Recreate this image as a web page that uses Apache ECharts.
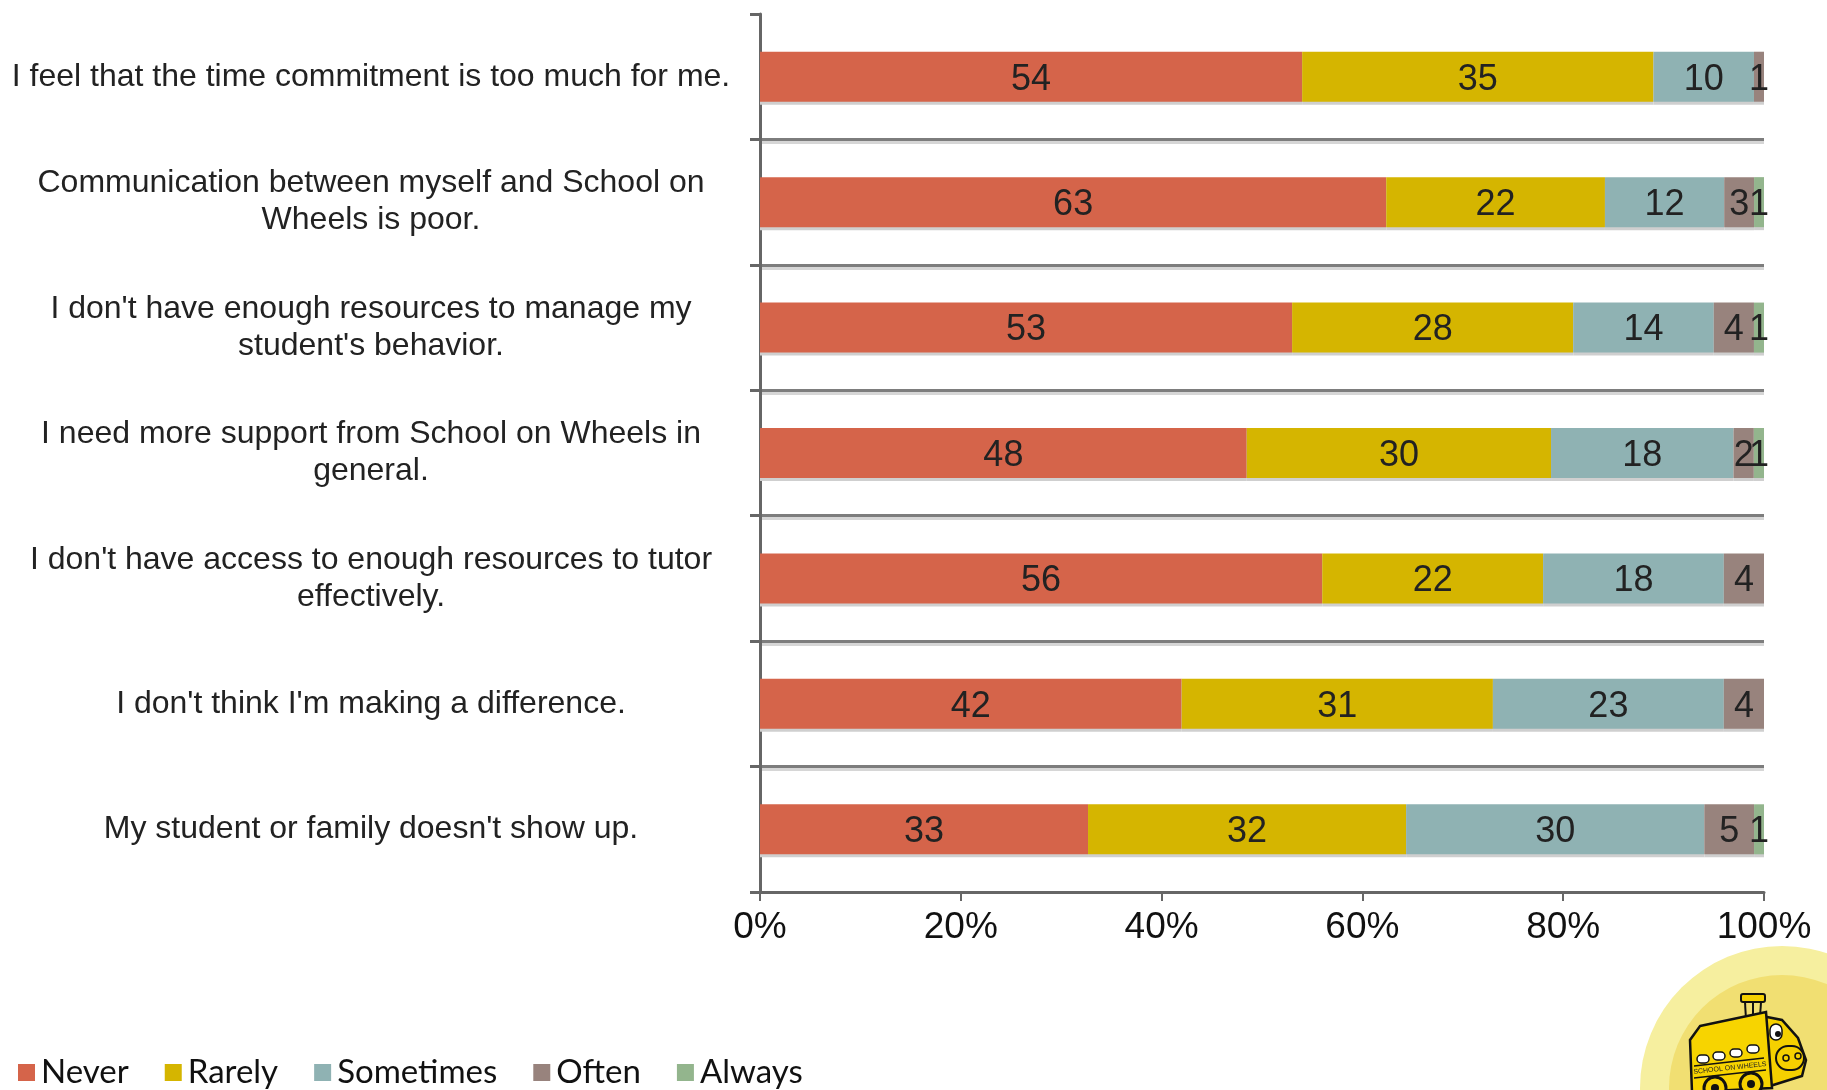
<!DOCTYPE html>
<html>
<head>
<meta charset="utf-8">
<script src="https://cdn.jsdelivr.net/npm/echarts@6/dist/echarts.min.js"></script>
<style>
html,body{margin:0;padding:0;background:#fff;}
#chart{width:1827px;height:1090px;}
</style>
</head>
<body>
<div id="chart"></div>
<script>
const categories = [
  "I feel that the time commitment is too much for me.",
  "Communication between myself and School on\nWheels is poor.",
  "I don't have enough resources to manage my\nstudent's behavior.",
  "I need more support from School on Wheels in\ngeneral.",
  "I don't have access to enough resources to tutor\neffectively.",
  "I don't think I'm making a difference.",
  "My student or family doesn't show up."
];
const seriesNames = ["Never", "Rarely", "Sometimes", "Often", "Always"];
const never     = [54, 63, 53, 48, 56, 42, 33];
const rarely    = [35, 22, 28, 30, 22, 31, 32];
const sometimes = [10, 12, 14, 18, 18, 23, 30];
const often     = [1, 3, 4, 2, 4, 4, 5];
const always    = [0, 1, 1, 1, 0, 0, 1];
const xTicks = [0, 20, 40, 60, 80, 100];
const colors = ["#D5644A", "#D5B500", "#8FB2B3", "#98837D", "#93B58D"];

const allSeries = [never, rarely, sometimes, often, always];
const totals = categories.map((_, i) => allSeries.reduce((s, arr) => s + arr[i], 0));

const chart = echarts.init(document.getElementById('chart'), null, {renderer: 'canvas'});
const FONT = '"Liberation Sans", Arial, sans-serif';

function pill(cx, cy, rx, ry) {
  return {type: 'rect', shape: {x: cx - rx, y: cy - ry, width: rx * 2, height: ry * 2, r: ry},
          style: {fill: '#fff', stroke: '#111', lineWidth: 1.5}};
}

const busParts = [
  {type: 'rect', shape: {x: 1741, y: 994, width: 24, height: 8, r: 2}, style: {fill: '#F5D000', stroke: '#111', lineWidth: 2}},
  {type: 'line', shape: {x1: 1745, y1: 1002, x2: 1746, y2: 1020}, style: {stroke: '#111', lineWidth: 2}},
  {type: 'line', shape: {x1: 1753, y1: 1002, x2: 1753, y2: 1018}, style: {stroke: '#111', lineWidth: 2}},
  {type: 'line', shape: {x1: 1761, y1: 1002, x2: 1760, y2: 1017}, style: {stroke: '#111', lineWidth: 2}},
  {type: 'polygon', shape: {points: [[1762, 1016], [1782, 1020], [1798, 1038], [1806, 1060], [1802, 1076], [1770, 1086]]}, style: {fill: '#F5D000', stroke: '#111', lineWidth: 2.5}},
  {type: 'polygon', shape: {points: [[1700, 1026], [1766, 1012], [1772, 1088], [1692, 1092], [1690, 1040]]}, style: {fill: '#F7D400', stroke: '#111', lineWidth: 2.5}},
  pill(1703, 1059, 6, 4),
  pill(1719, 1056, 6, 4),
  pill(1736, 1053, 6, 4),
  pill(1753, 1049, 6, 4),
  {type: 'line', shape: {x1: 1694, y1: 1066, x2: 1764, y2: 1058}, style: {stroke: '#111', lineWidth: 1.5}},
  {type: 'line', shape: {x1: 1694, y1: 1078, x2: 1766, y2: 1070}, style: {stroke: '#111', lineWidth: 1.5}},
  {type: 'text', x: 1730, y: 1068, rotation: 0.11, style: {text: 'SCHOOL ON WHEELS', fontSize: 7, fontFamily: FONT, fill: '#222', align: 'center', verticalAlign: 'middle'}},
  {type: 'rect', shape: {x: 1770, y: 1024, width: 12, height: 16, r: 6}, style: {fill: '#fff', stroke: '#111', lineWidth: 1.5}},
  {type: 'circle', shape: {cx: 1778, cy: 1034, r: 3}, style: {fill: '#111'}},
  {type: 'rect', shape: {x: 1776, y: 1046, width: 28, height: 24, r: 12}, style: {fill: '#F5D000', stroke: '#111', lineWidth: 2}},
  {type: 'circle', shape: {cx: 1786, cy: 1058, r: 3}, style: {fill: '#F5D000', stroke: '#111', lineWidth: 1.5}},
  {type: 'circle', shape: {cx: 1798, cy: 1056, r: 3}, style: {fill: '#F5D000', stroke: '#111', lineWidth: 1.5}},
  {type: 'circle', shape: {cx: 1715, cy: 1088, r: 11}, style: {fill: '#F5D000', stroke: '#111', lineWidth: 3}},
  {type: 'circle', shape: {cx: 1715, cy: 1088, r: 4}, style: {fill: '#111'}},
  {type: 'circle', shape: {cx: 1751, cy: 1084, r: 11}, style: {fill: '#F5D000', stroke: '#111', lineWidth: 3}},
  {type: 'circle', shape: {cx: 1751, cy: 1084, r: 4}, style: {fill: '#111'}}
].map((p, i) => Object.assign({z: 10 + i}, p));

const option = {
  animation: false,
  backgroundColor: '#fff',
  color: colors,
  grid: {left: 760, right: 63, top: 14, bottom: 198, containLabel: false},
  legend: {
    data: seriesNames,
    left: 13,
    top: 1051,
    icon: 'rect',
    itemWidth: 17,
    itemHeight: 17,
    itemGap: 36,
    textStyle: {fontFamily: 'Lato, sans-serif', fontSize: 33, color: '#111', padding: [0, 0, 0, 1]}
  },
  xAxis: {
    type: 'value',
    min: xTicks[0],
    max: xTicks[xTicks.length - 1],
    interval: xTicks[1] - xTicks[0],
    axisLine: {show: true, lineStyle: {color: '#666', width: 3}},
    axisTick: {show: true, length: 9, lineStyle: {color: '#666', width: 2}},
    splitLine: {show: false},
    axisLabel: {formatter: '{value}%', fontFamily: FONT, fontSize: 37, color: '#111', margin: 17}
  },
  yAxis: {
    type: 'category',
    data: categories,
    inverse: true,
    boundaryGap: true,
    axisLine: {show: true, lineStyle: {color: '#666', width: 3}},
    axisTick: {show: true, length: 10, lineStyle: {color: '#666', width: 3}},
    splitLine: {show: true, showMinLine: false, showMaxLine: false,
      lineStyle: {color: '#7d7d7d', width: 3, shadowColor: '#d6d6d6', shadowOffsetY: 3}},
    axisLabel: {
      align: 'center',
      margin: 389,
      fontFamily: FONT,
      fontSize: 32,
      lineHeight: 37,
      padding: [11, 0, 0, 0],
      color: '#222'
    }
  },
  series: allSeries.map((arr, si) => ({
    name: seriesNames[si],
    type: 'bar',
    stack: 'total',
    barWidth: 50,
    itemStyle: {color: colors[si], shadowColor: '#cfcfcf', shadowOffsetY: 3},
    label: {
      show: true,
      position: 'inside',
      offset: [0, 3],
      fontFamily: FONT,
      fontSize: 36,
      color: '#222',
      formatter: p => p.data.raw > 0 ? String(p.data.raw) : ''
    },
    data: arr.map((v, i) => ({value: v / totals[i] * 100, raw: v}))
  })),
  graphic: [
    {type: 'circle', z: 1, shape: {cx: 1782, cy: 1088, r: 142}, style: {fill: '#F6EF9F'}},
    {type: 'circle', z: 2, shape: {cx: 1782, cy: 1088, r: 113}, style: {fill: '#F1DF72'}}
  ].concat(busParts)
};
chart.setOption(option);
</script>
</body>
</html>
